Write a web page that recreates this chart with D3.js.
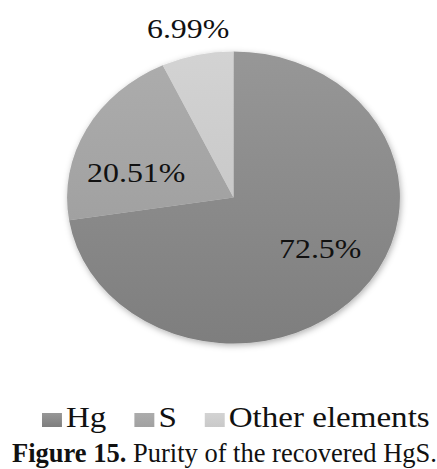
<!DOCTYPE html>
<html>
<head>
<meta charset="utf-8">
<script src="https://cdn.jsdelivr.net/npm/d3@7"></script>
<style>
  html, body { margin: 0; padding: 0; background: #fff; }
  svg { display: block; }
  text { font-family: "Liberation Serif", "Times New Roman", serif; fill: #111; }
</style>
</head>
<body>
<svg id="chart" width="437" height="469"></svg>
<script>
const categories = ["Hg", "S", "Other elements"];
const values = [72.5, 20.51, 6.99];
const valueLabels = ["72.5%", "20.51%", "6.99%"];
const captionBold = "Figure 15.";
const captionText = " Purity of the recovered HgS.";

const W = 437, H = 469;
const sx = 1.14;              // horizontal stretch of the figure
const cx = 233.5, cy = 197.5, R = 146;
const colors = [["#979797", "#7e7e7e"], ["#acacac", "#a1a1a1"], ["#d3d3d3", "#c9c9c9"]];

const svg = d3.select("#chart");
const defs = svg.append("defs");
colors.forEach((c, i) => {
  const g = defs.append("linearGradient").attr("id", "grad" + i)
    .attr("x1", 0).attr("y1", 0).attr("x2", 0).attr("y2", 1);
  g.append("stop").attr("offset", "0%").attr("stop-color", c[0]);
  g.append("stop").attr("offset", "100%").attr("stop-color", c[1]);
});
const f = defs.append("filter").attr("id", "shadow")
  .attr("x", "-20%").attr("y", "-20%").attr("width", "140%").attr("height", "140%");
f.append("feDropShadow").attr("dx", 1).attr("dy", 2).attr("stdDeviation", 3)
  .attr("flood-color", "#000").attr("flood-opacity", 0.3);

const pie = d3.pie().sort(null).value(d => d)(values);
const arc = d3.arc().innerRadius(0).outerRadius(R);
const labelArc = d3.arc().innerRadius(100).outerRadius(100);

const g = svg.append("g").attr("transform", `translate(${cx},${cy}) scale(${sx},1)`);
const slices = g.append("g").attr("filter", "url(#shadow)");
slices.selectAll("path").data(pie).join("path")
  .attr("d", arc)
  .attr("fill", (d, i) => `url(#grad${i})`);

// label offsets relative to centroid (Excel best-fit placement)
const labelOffsets = [[0, -14], [3, 22], [-18, -71]];
g.selectAll("text.lbl").data(pie).join("text")
  .attr("class", "lbl")
  .attr("x", (d, i) => labelArc.centroid(d)[0] + labelOffsets[i][0])
  .attr("y", (d, i) => labelArc.centroid(d)[1] + labelOffsets[i][1])
  .attr("text-anchor", "middle")
  .attr("dy", "0.34em")
  .attr("font-size", 28)
  .text((d, i) => valueLabels[i]);

// legend
const leg = svg.append("g").attr("transform", `scale(${sx},1)`);
let x = 42 / sx;
const legBase = 427;
categories.forEach((c, i) => {
  leg.append("rect").attr("x", x).attr("y", legBase - 14)
    .attr("width", 17.5).attr("height", 14).attr("fill", `url(#grad${i})`);
  const t = leg.append("text").attr("x", x + 24 / sx).attr("y", legBase)
    .attr("font-size", 29).text(c);
  const w = t.node().getComputedTextLength();
  x = x + 24 / sx + w + 28 / sx;
});

// caption
const cap = svg.append("text").attr("x", 12).attr("y", 462).attr("font-size", 26.5);
cap.append("tspan").attr("font-weight", "bold").text(captionBold);
cap.append("tspan").text(captionText);
</script>
</body>
</html>
